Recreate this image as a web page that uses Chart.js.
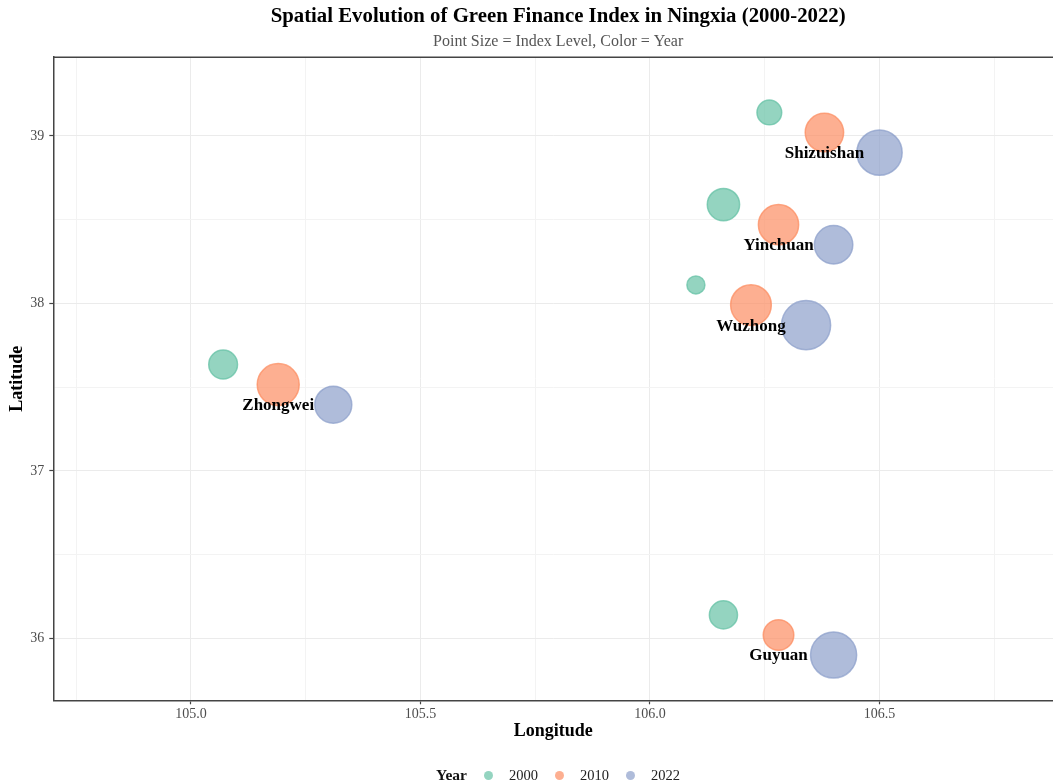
<!DOCTYPE html>
<html>
<head>
<meta charset="utf-8">
<script src="https://cdn.jsdelivr.net/npm/chart.js@4.4.1/dist/chart.umd.min.js"></script>
<style>
  body { margin: 0; background: #fff; overflow: hidden; }
  #wrap { position: relative; width: 1053px; height: 784px; }
  #legend {
    position: absolute; left: 436px; top: 765px; height: 20px;
    display: flex; align-items: center;
    font-family: "Liberation Serif", "Times New Roman", serif; font-size: 14.5px; color: #222;
  }
  #legend .ttl { font-weight: bold; font-size: 15.5px; color: #111; margin-right: 17px; }
  #legend .dot { width: 9px; height: 9px; border-radius: 50%; margin-right: 16px; }
  #legend .lbl { margin-right: 17px; }
</style>
</head>
<body>
<div id="wrap">
  <canvas id="chart" width="1053" height="784"></canvas>
  <div id="legend"></div>
</div>
<script>
var cities = ['Shizuishan', 'Yinchuan', 'Wuzhong', 'Zhongwei', 'Guyuan'];
var years = ['2000', '2010', '2022'];
var colors = ['102, 194, 165', '252, 141, 98', '141, 160, 203'];

// each year is drawn slightly shifted from the city centre so they don't overlap
var lon2000 = [106.26, 106.16, 106.10, 105.07, 106.16];
var lon2010 = [106.38, 106.28, 106.22, 105.19, 106.28];
var lon2022 = [106.50, 106.40, 106.34, 105.31, 106.40];
var lat2000 = [39.14, 38.59, 38.11, 37.635, 36.14];
var lat2010 = [39.02, 38.47, 37.99, 37.515, 36.02];
var lat2022 = [38.90, 38.35, 37.87, 37.395, 35.90];

// green finance index level (drives bubble size)
var index2000 = [0.17, 0.29, 0.09, 0.23, 0.22];
var index2010 = [0.41, 0.45, 0.46, 0.49, 0.26];
var index2022 = [0.57, 0.41, 0.67, 0.38, 0.59];

var xTicks = [105.0, 105.5, 106.0, 106.5];
var yTicks = [36, 37, 38, 39];

var xMin = 104.70, xMax = 106.878;
var yMin = 35.63, yMax = 39.47;

function sizeOf(v) {
    return Math.sqrt(v) * 30;
}

function makeData(lons, lats, idx) {
    return lons.map(function(x, i) {
        return { x: x, y: lats[i], r: sizeOf(idx[i]), city: cities[i] };
    });
}

var lons = [lon2000, lon2010, lon2022];
var lats = [lat2000, lat2010, lat2022];
var idxs = [index2000, index2010, index2022];

var datasets = years.map(function(yr, k) {
    return {
        label: yr,
        data: makeData(lons[k], lats[k], idxs[k]),
        backgroundColor: 'rgba(' + colors[k] + ', 0.7)',
        borderColor: 'rgba(' + colors[k] + ', 0.75)',
        borderWidth: 1.5,
        hoverBorderWidth: 1.5
    };
});

// major ticks plus the minor lines half way in between
function withMinor(major, min, max) {
    var half = (major[1] - major[0]) / 2;
    var out = [];
    for (var v = major[0] - half; v <= major[major.length - 1] + half + 1e-9; v += half) {
        var r = Math.round(v * 1000) / 1000;
        if (r >= min && r <= max) out.push(r);
    }
    return out;
}
function isMajor(list, v) {
    return list.some(function(m) { return Math.abs(m - v) < 1e-6; });
}

var cityLabels = {
    id: 'cityLabels',
    afterDatasetsDraw: function(chart) {
        var ctx = chart.ctx;
        var xs = chart.scales.x, ys = chart.scales.y;
        ctx.save();
        ctx.font = 'bold 17px "Liberation Serif", "Times New Roman", serif';
        ctx.fillStyle = '#000';
        ctx.textAlign = 'center';
        ctx.textBaseline = 'middle';
        cities.forEach(function(c, i) {
            ctx.fillText(c, xs.getPixelForValue(lon2010[i]), ys.getPixelForValue(lat2022[i]) + 1);
        });
        ctx.restore();
    }
};

// panel border on top; titles sit a little right of the panel centre
var frame = {
    id: 'frame',
    afterLayout: function(chart) {
        chart.boxes.forEach(function(b) {
            if (b.position === 'top' && b.options && typeof b.options.text === 'string') {
                b.left = chart.chartArea.left + 10;
            }
        });
    },
    afterDraw: function(chart) {
        var a = chart.chartArea, ctx = chart.ctx;
        ctx.save();
        ctx.strokeStyle = '#444';
        ctx.lineWidth = 1.5;
        ctx.beginPath();
        ctx.moveTo(a.left, a.top);
        ctx.lineTo(a.right, a.top);
        ctx.stroke();
        ctx.restore();
    }
};

Chart.defaults.font.family = '"Liberation Serif", "Times New Roman", serif';

var ctx = document.getElementById('chart').getContext('2d');
var chart = new Chart(ctx, {
    type: 'bubble',
    data: { datasets: datasets },
    plugins: [cityLabels, frame],
    options: {
        responsive: false,
        animation: false,
        layout: { autoPadding: false, padding: { left: 0, right: 0, top: 0, bottom: 40 } },
        plugins: {
            legend: { display: false },
            tooltip: { enabled: false },
            title: {
                display: true,
                fullSize: false,
                text: 'Spatial Evolution of Green Finance Index in Ningxia (2000-2022)',
                color: '#000',
                font: { size: 20.8, weight: 'bold' },
                padding: { top: 4, bottom: 1 }
            },
            subtitle: {
                display: true,
                fullSize: false,
                text: 'Point Size = Index Level, Color = Year',
                color: '#555',
                font: { size: 16 },
                padding: { top: 2, bottom: 6 }
            }
        },
        scales: {
            x: {
                type: 'linear',
                min: xMin,
                max: xMax,
                afterBuildTicks: function(s) {
                    s.ticks = withMinor(xTicks, xMin, xMax).map(function(v) { return { value: v }; });
                },
                afterFit: function(s) { s.height = 43.7; },
                ticks: {
                    autoSkip: false,
                    maxRotation: 0,
                    color: '#4d4d4d',
                    font: { size: 14 },
                    padding: 2,
                    callback: function(v) { return isMajor(xTicks, v) ? v.toFixed(1) : ''; }
                },
                grid: {
                    color: function(c) { return c.tick && isMajor(xTicks, c.tick.value) ? '#ebebeb' : '#f3f3f3'; },
                    tickColor: function(c) { return c.tick && isMajor(xTicks, c.tick.value) ? '#444' : 'rgba(0,0,0,0)'; },
                    tickLength: 4,
                    tickWidth: 1.2
                },
                border: { display: true, color: '#444', width: 1.5 },
                title: {
                    display: true,
                    text: 'Longitude',
                    color: '#000',
                    font: { size: 18, weight: 'bold' },
                    padding: { top: 0, bottom: 2 }
                }
            },
            y: {
                type: 'linear',
                min: yMin,
                max: yMax,
                afterBuildTicks: function(s) {
                    s.ticks = withMinor(yTicks, yMin, yMax).map(function(v) { return { value: v }; });
                },
                afterFit: function(s) { s.width = 53.3; },
                ticks: {
                    autoSkip: false,
                    color: '#4d4d4d',
                    font: { size: 14 },
                    padding: 5,
                    callback: function(v) { return isMajor(yTicks, v) ? String(v) : ''; }
                },
                grid: {
                    color: function(c) { return c.tick && isMajor(yTicks, c.tick.value) ? '#ebebeb' : '#f3f3f3'; },
                    tickColor: function(c) { return c.tick && isMajor(yTicks, c.tick.value) ? '#444' : 'rgba(0,0,0,0)'; },
                    tickLength: 4,
                    tickWidth: 1.2
                },
                border: { display: true, color: '#444', width: 1.5 },
                title: {
                    display: true,
                    text: 'Latitude',
                    color: '#000',
                    font: { size: 18, weight: 'bold' },
                    padding: { top: 7, bottom: 0 }
                }
            }
        }
    }
});

// legend below the plot, built from the same years / colours
var legend = document.getElementById('legend');
var t = document.createElement('span');
t.className = 'ttl';
t.textContent = 'Year';
legend.appendChild(t);
years.forEach(function(yr, k) {
    var d = document.createElement('span');
    d.className = 'dot';
    d.style.background = 'rgba(' + colors[k] + ', 0.7)';
    legend.appendChild(d);
    var l = document.createElement('span');
    l.className = 'lbl';
    l.textContent = yr;
    legend.appendChild(l);
});
</script>
</body>
</html>
